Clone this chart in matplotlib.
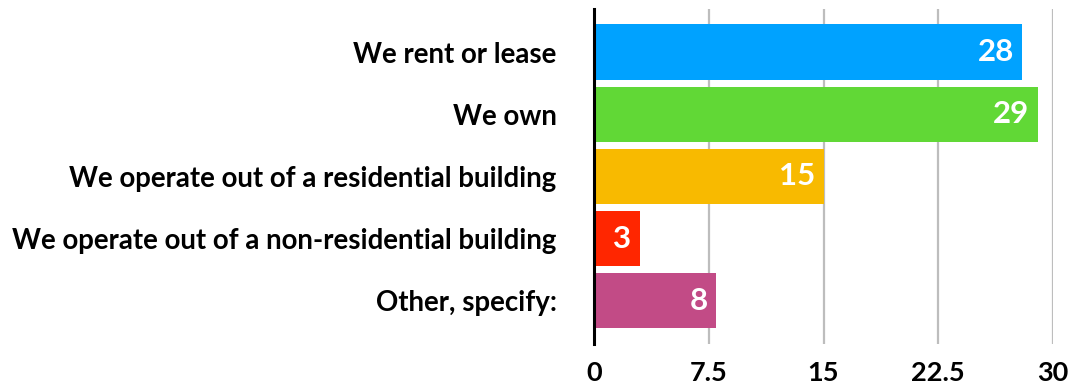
import matplotlib
matplotlib.use('Agg')
import matplotlib.pyplot as plt

# Dữ liệu
categories = ['We rent or lease', 'We own', 'We operate out of a residential building',
              'We operate out of a non-residential building', 'Other, specify:']
values = [28, 29, 15, 3, 8]
colors = ['#00A2FF', '#61D836', '#F8BA00', '#FF2600', '#C24B86']
xticks = [0, 7.5, 15, 22.5, 30]
xtick_labels = ['0', '7.5', '15', '22.5', '30']

plt.rcParams['font.family'] = ['Lato', 'DejaVu Sans']

fig = plt.figure(figsize=(10.75, 3.89), dpi=100)
ax = fig.add_axes([0.5526, 0.1157, 0.4269, 0.8612])

ypos = list(range(len(categories)))
ax.barh(ypos, values, height=0.9, color=colors, zorder=3)

# Nhãn giá trị bên trong thanh
for y, v in zip(ypos, values):
    ax.text(v - 0.55, y, str(v), ha='right', va='center', color='white',
            fontsize=22.5, fontweight='bold', zorder=4)

ax.set_xlim(0, 30)
ax.set_ylim(4.7, -0.7)
ax.set_xticks(xticks)
ax.set_xticklabels(xtick_labels, fontsize=19.5, fontweight='bold')
ax.set_yticks(ypos)
ax.set_yticklabels(categories, fontsize=19.9, fontweight='bold')
ax.tick_params(axis='both', length=0)
ax.tick_params(axis='x', pad=12)
ax.tick_params(axis='y', pad=27)

ax.grid(axis='x', color='#BDBDBD', linewidth=1.6, zorder=0)
for s in ['top', 'right', 'bottom']:
    ax.spines[s].set_visible(False)
ax.spines['left'].set_linewidth(2.2)
ax.spines['left'].set_color('black')
ax.spines['left'].set_zorder(5)

fig.savefig('out.png', dpi=100)
